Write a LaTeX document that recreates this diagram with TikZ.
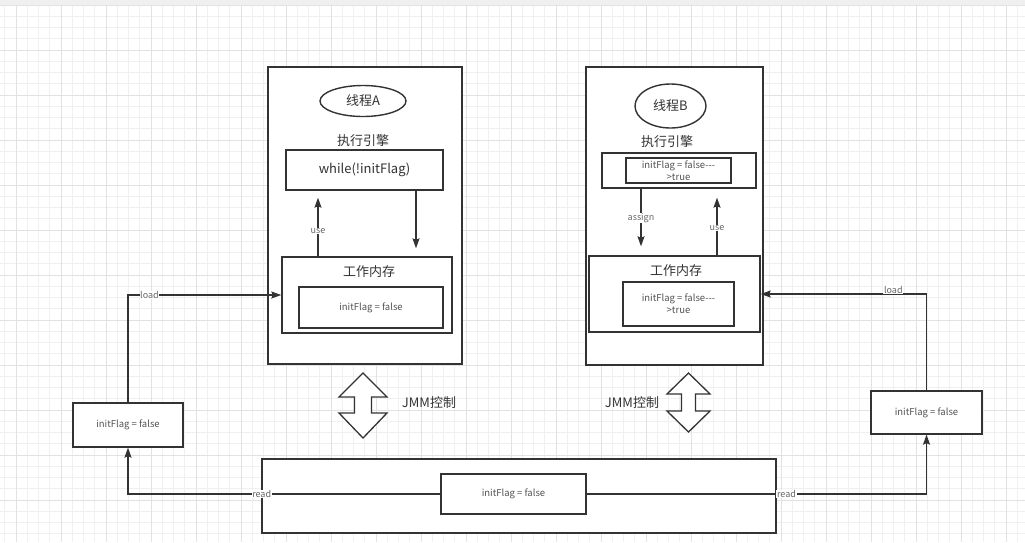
\documentclass[tikz,border=0pt]{standalone}
\usepackage{fontspec}
\setmainfont{Noto Sans CJK SC}
\usepackage{tikz}
\usetikzlibrary{positioning,arrows.meta,shapes.geometric}

\definecolor{linegray}{HTML}{333333}
\definecolor{txtgray}{HTML}{333333}
\definecolor{gridminor}{HTML}{F0F0F0}
\definecolor{gridmajor}{HTML}{E2E2E2}

\tikzset{
	box/.style={draw=linegray, line width=1.4pt, fill=white, inner sep=0pt, text=txtgray},
	title/.style={text=txtgray, font=\fontsize{13}{15}\selectfont, inner sep=0pt},
	flag/.style={box, line width=1.3pt, text=txtgray!85, font=\fontsize{9.5}{12}\selectfont, align=center},
	lbl/.style={fill=white, text=txtgray!75, font=\fontsize{9}{10}\selectfont, inner sep=0.6pt},
	flow/.style={draw=linegray, line width=1.3pt, -{Stealth[length=10pt,width=7pt,inset=1.5pt]}},
	jmm/.style={draw=linegray, line width=1.3pt, fill=white, line join=miter}
}

\begin{document}
\begin{tikzpicture}[x=1pt,y=-1pt]
		\useasboundingbox (0,0) rectangle (1025,542);
		\fill[black!6] (0,0) rectangle (1025,5);
		\foreach \k in {0,...,91}
			\draw[gridminor, line width=0.8pt] ({4.75+11.25*\k},5) -- ({4.75+11.25*\k},542);
		\foreach \k in {0,...,48}
			\draw[gridminor, line width=0.8pt] (0,{5+11.25*\k}) -- (1025,{5+11.25*\k});
		\foreach \k in {0,...,22}
			\draw[gridmajor, line width=0.8pt] ({16+45*\k},5) -- ({16+45*\k},542);
		\foreach \k in {0,...,12}
			\draw[gridmajor, line width=0.8pt] (0,{5+45*\k}) -- (1025,{5+45*\k});

		\node[box, minimum width=194pt, minimum height=297pt] (threadA) at (365,215.5) {};
		\node[ellipse, box, title, minimum width=86pt, minimum height=31pt] (ellA) at (363,101) {线程A};
		\node[title] (engA) at (363,141) {执行引擎};
		\node[box, title, minimum width=157pt, minimum height=40pt] (whileA) at (364.5,170) {while(!initFlag)};
		\node[box, minimum width=170pt, minimum height=76pt] (memA) at (367,295) {};
		\node[title] (memAtitle) at (369,272) {工作内存};
		\node[flag, minimum width=144pt, minimum height=41pt] (flagA) at (371,307.5) {initFlag = false};

		\node[box, minimum width=177pt, minimum height=298pt] (threadB) at (674.5,216) {};
		\node[ellipse, box, title, minimum width=71pt, minimum height=44pt] (ellB) at (670.5,106) {线程B};
		\node[title] (engB) at (667,142) {执行引擎};
		\node[box, minimum width=154pt, minimum height=35pt] (engBbox) at (679,170.5) {};
		\node[flag, minimum width=105pt, minimum height=25pt] (flagBeng) at (678.5,170.5) {initFlag = false-{}-{}-\\>true};
		\node[box, minimum width=171pt, minimum height=76pt] (memB) at (674.5,294) {};
		\node[title] (memBtitle) at (676,271) {工作内存};
		\node[flag, minimum width=111pt, minimum height=44pt] (flagB) at (678.5,304) {initFlag = false-{}-{}-\\>true};

		\node[flag, minimum width=110pt, minimum height=44pt] (localA) at (128,425) {initFlag = false};
		\node[flag, minimum width=111pt, minimum height=43pt] (localB) at (926.5,412.5) {initFlag = false};
		\node[box, minimum width=514pt, minimum height=74pt] (mainMem) at (519,496) {};
		\node[flag, minimum width=145pt, minimum height=40pt] (mainFlag) at (513.5,494) {initFlag = false};

		\coordinate (jmmA) at (363,405.5);
		\draw[jmm, shift={(jmmA)}] (0,-32.5) -- (24,-8.5) -- (8.5,-8.5) -- (8.5,7.5) -- (24,7.5) -- (0,32.5)
			-- (-24,7.5) -- (-8.5,7.5) -- (-8.5,-8.5) -- (-24,-8.5) -- cycle;
		\node[title] (jmmAtext) at (429,403) {JMM控制};
		\coordinate (jmmB) at (688.5,402.5);
		\draw[jmm, shift={(jmmB)}] (0,-29.5) -- (21.5,-8.5) -- (7,-8.5) -- (7,8.5) -- (21.5,8.5) -- (0,29.5)
			-- (-21.5,8.5) -- (-7,8.5) -- (-7,-8.5) -- (-21.5,-8.5) -- cycle;
		\node[title] (jmmBtext) at (632,403) {JMM控制};

		\draw[flow, shorten >=7pt] ([xshift=-49pt]memA.north) -- ([xshift=-49pt]memA.north |- whileA.south) node[lbl, pos=0.39] {use};
		\draw[flow, shorten >=8pt] ([xshift=51.5pt]whileA.south) -- ([xshift=51.5pt]whileA.south |- memA.north);
		\draw[flow, shorten >=9pt] ([xshift=-38pt]engBbox.south) -- ([xshift=-38pt]engBbox.south |- memB.north) node[lbl, pos=0.44] {assign};
		\draw[flow, shorten >=9pt] ([xshift=42.5pt]memB.north) -- ([xshift=42.5pt]memB.north |- engBbox.south) node[lbl, pos=0.41] {use};

		\draw[flow] (localA.north) |- (memA.west) node[lbl, pos=0.57] {load};
		\draw[flow] (localB.north) |- (memB.east) node[lbl, pos=0.6, yshift=4pt] {load};
		\draw[flow] (mainFlag.west) -| (localA.south) node[lbl, pos=0.286] {read};
		\draw[flow] (mainFlag.east) -| (localB.south) node[lbl, pos=0.294] {read};
\end{tikzpicture}
\end{document}
